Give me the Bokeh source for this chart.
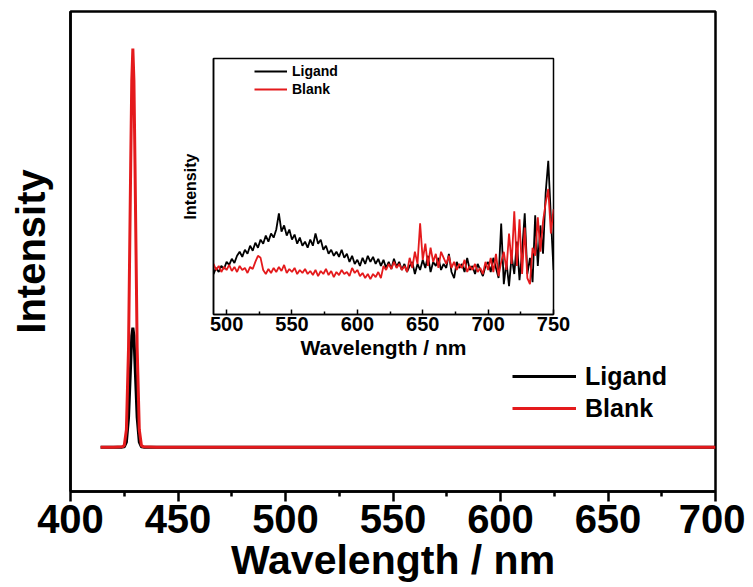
from bokeh.plotting import figure
from bokeh.models import FixedTicker, Legend, LegendItem, Range1d
from bokeh.layouts import column
from bokeh.embed import file_html
from bokeh.resources import INLINE

# ---------------- main spectrum data ----------------
main_wl = [414, 420, 424, 425, 426, 427, 428, 428.5, 429, 429.5, 430, 431, 432, 433, 434, 440,
           500, 550, 600, 650, 700]
main_blank = [0, 0, 0.001, 0.004, 0.044, 0.25, 0.71, 0.92, 1.0, 0.92, 0.71, 0.25, 0.044, 0.004, 0.001, 0,
              0, 0, 0, 0, 0]
main_ligand = [0, 0, 0.0003, 0.0012, 0.013, 0.075, 0.21, 0.28, 0.30, 0.28, 0.21, 0.075, 0.013, 0.0012, 0.0003, 0,
               0, 0, 0, 0, 0]
main_ticks = [400, 450, 500, 550, 600, 650, 700]
main_minor = [425, 475, 525, 575, 625, 675]

# ---------------- inset data ----------------
inset_wl = [490, 492, 494, 496, 498, 500, 502, 504, 506, 508, 510, 512, 514, 516, 518, 520, 522, 524, 526, 528,
            530, 532, 534, 536, 538, 540, 542, 544, 546, 548, 550, 552, 554, 556, 558, 560, 562, 564, 566, 568,
            570, 572, 574, 576, 578, 580, 582, 584, 586, 588, 590, 592, 594, 596, 598, 600, 602, 604, 606, 608,
            610, 612, 614, 616, 618, 620, 622, 624, 626, 628, 630, 632, 634, 636, 638, 640, 642, 644, 646, 648,
            650, 652, 654, 656, 658, 660, 662, 664, 666, 668, 670, 672, 674, 676, 678, 680, 682, 684, 686, 688,
            690, 692, 694, 696, 698, 700, 702, 704, 706, 708, 710, 712, 714, 716, 718, 720, 722, 724, 726, 728,
            730, 732, 734, 736, 738, 740, 742, 744, 746, 748, 750]
inset_ligand = [40, 46, 42, 48, 45, 52, 49, 55, 51, 58, 62, 57, 64, 60, 68, 63, 71, 66, 74, 70,
                78, 72, 80, 76, 84, 100, 82, 88, 78, 84, 74, 79, 70, 76, 68, 72, 66, 74, 68, 80,
                70, 74, 64, 68, 60, 64, 58, 62, 57, 64, 56, 60, 52, 58, 50, 54, 48, 56, 50, 58,
                52, 57, 50, 55, 48, 54, 46, 52, 45, 55, 47, 52, 44, 50, 42, 48, 52, 40, 50, 44,
                54, 46, 58, 42, 52, 48, 56, 44, 50, 46, 60, 42, 36, 52, 46, 50, 42, 56, 44, 48,
                40, 50, 44, 38, 48, 52, 42, 56, 46, 36, 90, 30, 52, 28, 58, 40, 72, 34, 62, 100,
                40, 56, 32, 98, 48, 88, 60, 120, 152, 96, 44]
inset_blank = [50, 44, 48, 42, 47, 44, 49, 43, 47, 42, 48, 44, 46, 41, 47, 45, 52, 58, 56, 44,
               40, 45, 41, 46, 42, 47, 43, 49, 41, 45, 42, 46, 40, 44, 41, 45, 40, 43, 39, 44,
               38, 43, 40, 45, 39, 43, 37, 42, 39, 44, 40, 42, 38, 46, 41, 44, 38, 41, 36, 40,
               35, 40, 37, 42, 36, 48, 44, 50, 45, 52, 46, 50, 44, 48, 42, 56, 46, 62, 50, 90,
               54, 70, 48, 66, 52, 60, 46, 62, 56, 50, 58, 46, 52, 44, 50, 46, 54, 42, 48, 44,
               50, 42, 46, 40, 52, 44, 56, 42, 60, 38, 52, 62, 44, 80, 50, 102, 48, 94, 40, 86,
               36, 30, 66, 58, 96, 62, 92, 110, 124, 80, 104]
inset_ticks = [500, 550, 600, 650, 700, 750]
inset_minor = [525, 575, 625, 675, 725]

FONT = "Liberation Sans"
RED = "#e41a1c"

# ---------------- main figure ----------------
p = figure(width=740, height=580, x_range=Range1d(400, 700), y_range=Range1d(-0.111, 1.093),
           output_backend="svg", toolbar_location=None,
           min_border_left=64, min_border_right=30, min_border_top=5, min_border_bottom=95,
           x_axis_label="Wavelength / nm", y_axis_label="Intensity")
p.grid.visible = False
p.outline_line_color = "black"
p.outline_line_width = 2.5
p.outline_line_alpha = 1
p.background_fill_color = "white"
p.border_fill_color = "white"

px = p.xaxis[0]
px.ticker = FixedTicker(ticks=main_ticks, minor_ticks=main_minor)
px.axis_line_width = 2.5
px.major_tick_line_width = 2.5
px.minor_tick_line_width = 2.5
px.major_tick_in = 0
px.major_tick_out = 10
px.minor_tick_in = 0
px.minor_tick_out = 5
px.major_label_text_font = FONT
px.major_label_text_font_size = "40px"
px.major_label_text_font_style = "bold"
px.major_label_text_color = "black"
px.major_label_standoff = 3
px.axis_label_text_font = FONT
px.axis_label_text_font_size = "41px"
px.axis_label_text_font_style = "bold"
px.axis_label_text_color = "black"
px.axis_label_standoff = 1

py = p.yaxis[0]
py.ticker = FixedTicker(ticks=[])
py.axis_line_width = 2.5
py.major_tick_out = 0
py.major_tick_in = 0
py.minor_tick_out = 0
py.minor_tick_in = 0
py.major_label_standoff = 0
py.axis_label_text_font = FONT
py.axis_label_text_font_size = "40px"
py.axis_label_text_font_style = "bold"
py.axis_label_text_color = "black"
py.axis_label_standoff = 18

r1 = p.line(main_wl, main_ligand, line_color="black", line_width=3)
r2 = p.line(main_wl, main_blank, line_color=RED, line_width=3)

leg = Legend(items=[LegendItem(label="Ligand", renderers=[r1]),
                    LegendItem(label="Blank", renderers=[r2])],
             location=(442, 67))
leg.border_line_alpha = 0
leg.background_fill_alpha = 0
leg.padding = 0
leg.margin = 0
leg.spacing = 0
leg.glyph_width = 64
leg.glyph_height = 32
leg.label_height = 32
leg.label_standoff = 9
leg.label_text_font = FONT
leg.label_text_font_size = "25px"
leg.label_text_font_style = "bold"
leg.label_text_color = "black"
p.add_layout(leg)

# ---------------- inset figure ----------------
q = figure(width=435, height=318, x_range=Range1d(490, 750), y_range=Range1d(0, 253),
           output_backend="svg", toolbar_location=None,
           min_border_left=40, min_border_right=15, min_border_top=5, min_border_bottom=57,
           x_axis_label="Wavelength / nm", y_axis_label="Intensity")
q.grid.visible = False
q.outline_line_color = "black"
q.outline_line_width = 1.5
q.outline_line_alpha = 1
q.background_fill_color = "white"
q.border_fill_alpha = 0

qx = q.xaxis[0]
qx.ticker = FixedTicker(ticks=inset_ticks, minor_ticks=inset_minor)
qx.axis_line_width = 1.5
qx.major_tick_line_width = 1.5
qx.minor_tick_line_width = 1.5
qx.major_tick_in = 5
qx.major_tick_out = 0
qx.minor_tick_in = 3
qx.minor_tick_out = 0
qx.major_label_text_font = FONT
qx.major_label_text_font_size = "20px"
qx.major_label_text_font_style = "bold"
qx.major_label_text_color = "black"
qx.major_label_standoff = 2
qx.axis_label_text_font = FONT
qx.axis_label_text_font_size = "21px"
qx.axis_label_text_font_style = "bold"
qx.axis_label_text_color = "black"
qx.axis_label_standoff = 2

qy = q.yaxis[0]
qy.ticker = FixedTicker(ticks=[])
qy.axis_line_width = 1.5
qy.major_tick_out = 0
qy.major_tick_in = 0
qy.minor_tick_out = 0
qy.minor_tick_in = 0
qy.major_label_standoff = 0
qy.axis_label_text_font = FONT
qy.axis_label_text_font_size = "16px"
qy.axis_label_text_font_style = "bold"
qy.axis_label_text_color = "black"
qy.axis_label_standoff = 15

ql1 = q.line(inset_wl, inset_ligand, line_color="black", line_width=1.8)
ql2 = q.line(inset_wl, inset_blank, line_color=RED, line_width=1.8)

qleg = Legend(items=[LegendItem(label="Ligand", renderers=[ql1]),
                     LegendItem(label="Blank", renderers=[ql2])],
              location=(41, 216))
qleg.border_line_alpha = 0
qleg.background_fill_alpha = 0
qleg.padding = 0
qleg.margin = 0
qleg.spacing = 0
qleg.glyph_width = 33
qleg.glyph_height = 18
qleg.label_height = 18
qleg.label_standoff = 5
qleg.label_text_font = FONT
qleg.label_text_font_size = "14px"
qleg.label_text_font_style = "bold"
qleg.label_text_color = "black"
q.add_layout(qleg)

# inset positioned absolutely on top of the main figure
q.styles = {"position": "absolute", "left": "143px", "top": "47px", "z-index": "10"}
layout = column(p, q, spacing=0,
                styles={"position": "relative", "left": "5px", "top": "6px"})

open("out.html", "w").write(file_html(layout, INLINE))
